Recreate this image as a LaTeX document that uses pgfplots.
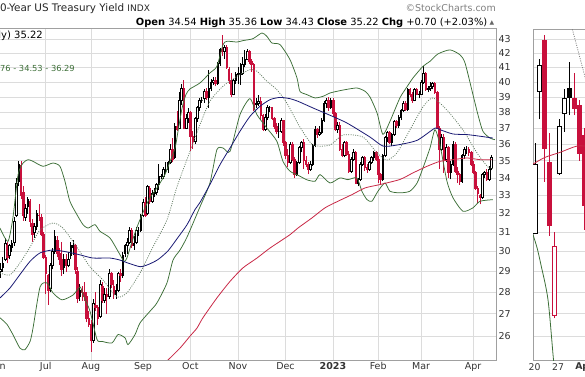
\documentclass[border=0pt]{standalone}
\usepackage{pgfplots}
\pgfplotsset{compat=1.18}
\usepackage{pgfplotstable}
\usepackage{fontspec}
\setmainfont{DejaVu Sans}
\definecolor{cred}{RGB}{200,16,60}
\definecolor{bbgreen}{RGB}{60,110,55}
\definecolor{ma20}{RGB}{100,125,100}
\definecolor{ma50}{RGB}{25,25,115}
\definecolor{ma200}{RGB}{200,40,70}
\definecolor{gridc}{RGB}{220,220,220}
\definecolor{framec}{RGB}{160,160,160}

% daily candles: x = trading day (Jul 1 2022 = 0)
\pgfplotstableread{
x o h l c
-21 28.5 29.3 28.4 29.1
-20 29.0 29.4 28.7 29.1
-19 29.2 29.7 29.0 29.4
-18 29.6 30.7 29.5 30.4
-17 30.3 30.5 29.4 29.7
-16 29.8 30.4 29.6 30.3
-15 30.2 30.6 30.0 30.4
-14 30.5 31.8 30.3 31.6
-13 31.9 34.0 31.8 33.7
-12 33.8 35.0 33.5 34.8
-11 34.7 35.0 32.8 33.0
-10 33.2 33.5 31.6 31.9
-9 31.8 32.5 31.6 32.3
-8 32.4 32.9 32.0 32.8
-7 32.7 32.8 31.3 31.6
-6 31.5 31.7 30.5 30.9
-5 31.0 31.5 30.7 31.3
-4 31.3 32.2 31.1 32.0
-3 31.9 32.5 31.6 31.9
-2 31.8 32.0 30.8 30.9
-1 30.9 31.0 29.6 29.7
0 29.7 29.8 27.9 28.9
1 28.8 28.9 27.4 28.1
2 28.2 29.4 28.0 29.3
3 29.3 30.2 29.1 30.0
4 30.0 31.1 29.9 30.8
5 30.6 30.8 29.7 29.9
6 29.9 30.2 29.3 29.6
7 29.6 30.5 28.8 29.1
8 29.2 29.9 28.9 29.6
9 29.6 29.9 29.0 29.3
10 29.3 30.0 29.2 29.6
11 29.8 30.5 29.6 30.3
12 30.2 30.6 29.8 30.3
13 30.3 30.4 28.9 29.1
14 29.0 29.2 27.5 27.7
15 27.8 28.4 27.6 28.1
16 28.1 28.3 27.6 28.0
17 28.0 28.5 27.6 27.8
18 27.8 28.0 26.6 26.8
19 26.8 27.1 26.4 26.5
20 26.5 26.7 25.3 25.8
21 25.8 27.7 25.7 27.5
22 27.4 28.0 27.1 27.3
23 27.3 27.4 26.5 26.8
24 26.9 28.6 26.8 28.4
25 28.3 28.5 27.5 27.6
26 27.6 28.2 27.5 27.9
27 27.9 28.2 27.0 27.8
28 27.8 29.1 27.7 28.9
29 28.9 29.0 28.2 28.4
30 28.3 28.6 27.7 27.9
31 27.9 28.4 27.7 28.1
32 28.1 29.0 28.0 28.9
33 28.9 29.1 28.5 28.8
34 28.8 30.0 28.7 29.8
35 29.9 30.4 29.7 30.3
36 30.3 30.7 29.9 30.5
37 30.5 31.3 30.4 31.1
38 31.1 31.2 30.2 30.3
39 30.3 30.8 30.1 30.4
40 30.5 31.3 30.4 31.1
41 31.1 31.3 30.8 31.1
42 31.1 32.0 31.0 31.9
43 31.9 32.8 31.8 32.6
44 32.6 32.9 31.8 31.9
45 32.0 33.6 31.9 33.5
46 33.4 33.5 32.5 32.7
47 32.7 33.3 32.6 33.1
48 33.1 33.4 32.9 33.2
49 33.2 33.7 33.0 33.6
50 33.6 34.8 33.3 34.1
51 34.1 34.2 33.9 34.1
52 34.1 34.6 33.9 34.5
53 34.5 34.9 34.3 34.5
54 34.5 35.0 34.3 34.9
55 34.9 36.0 34.8 35.7
56 35.7 36.4 34.9 35.1
57 35.2 37.3 35.1 37.1
58 37.1 38.1 36.8 36.9
59 37.0 39.3 36.9 38.8
60 38.8 39.9 38.5 39.6
61 39.6 40.1 36.9 37.0
62 37.0 37.9 36.9 37.6
63 37.6 38.3 37.3 38.0
64 38.0 38.1 35.6 36.5
65 36.5 36.8 35.7 36.2
66 36.2 37.7 36.0 37.6
67 37.6 38.4 37.4 38.3
68 38.3 38.9 38.1 38.8
69 38.8 39.0 38.6 38.8
70 38.9 39.5 38.6 39.4
71 39.4 39.6 38.8 39.0
72 39.0 40.8 38.3 39.6
73 39.6 40.2 39.4 40.0
74 40.0 40.3 39.8 40.1
75 40.1 40.3 39.7 39.9
76 39.9 41.4 39.8 41.3
77 41.3 42.4 41.1 42.3
78 42.3 43.3 41.8 42.1
79 42.1 42.6 41.6 42.4
80 42.4 42.6 40.9 41.0
81 40.9 41.0 39.9 40.1
82 40.1 40.6 39.0 39.2
83 39.2 40.2 39.1 40.1
84 40.1 40.7 39.9 40.5
85 40.6 41.0 39.9 40.5
86 40.5 41.3 39.8 40.6
87 40.6 41.7 40.5 41.2
88 41.2 42.2 41.0 41.6
89 41.6 42.3 41.5 42.1
90 42.1 42.2 41.2 41.4
91 41.4 41.6 40.7 41.2
92 41.2 41.3 38.1 38.2
93 38.5 38.9 38.3 38.6
94 38.6 39.1 38.4 38.7
95 38.7 39.0 37.5 37.8
96 37.8 37.9 36.8 36.9
97 36.9 37.9 36.8 37.7
98 37.7 38.5 37.5 38.3
99 38.3 38.4 38.0 38.3
100 38.3 38.3 37.5 37.6
101 37.6 37.7 36.9 37.1
102 37.1 37.3 36.6 36.8
103 36.8 37.3 36.4 36.8
104 36.8 37.6 36.7 37.5
105 37.5 37.5 35.9 36.1
106 36.1 36.2 35.1 35.3
107 35.3 35.7 34.6 34.9
108 34.9 36.1 34.8 36.0
109 36.0 36.1 35.0 35.1
110 35.1 35.2 34.0 34.2
111 34.2 35.0 34.1 34.9
112 34.9 35.9 34.8 35.8
113 35.8 36.2 35.5 36.1
114 36.1 36.3 34.5 35.0
115 35.0 35.3 34.6 34.8
116 34.8 34.9 34.2 34.5
117 34.5 35.0 34.4 34.8
118 34.8 36.0 34.7 35.9
119 35.9 37.1 35.8 36.9
120 36.9 37.0 36.4 36.6
121 36.6 37.1 36.5 36.7
122 36.7 37.6 36.6 37.5
123 37.5 38.7 37.4 38.6
124 38.6 38.9 38.3 38.8
125 38.8 39.0 38.1 38.3
126 38.3 38.9 38.2 38.8
127 38.8 38.9 37.7 37.9
128 37.9 38.0 36.8 36.9
129 36.9 37.4 36.7 37.2
130 37.2 37.4 35.6 35.7
131 35.7 36.0 35.2 35.3
132 35.3 36.2 35.2 36.1
133 36.1 36.2 35.3 35.4
134 35.4 35.6 34.3 34.4
135 34.4 35.2 34.3 35.1
136 35.1 35.7 35.0 35.5
137 35.5 35.6 33.7 33.7
138 33.7 34.0 33.5 33.9
139 33.9 34.9 33.8 34.8
140 34.8 35.3 34.7 35.2
141 35.2 35.3 34.4 34.6
142 34.6 34.8 34.3 34.5
143 34.5 35.0 34.4 34.9
144 34.9 35.3 34.8 35.2
145 35.2 35.6 35.0 35.5
146 35.5 35.6 35.0 35.1
147 35.1 35.3 33.7 34.2
148 34.2 34.3 33.6 33.9
149 33.9 35.4 33.8 35.3
150 35.3 36.5 35.2 36.4
151 36.4 36.8 36.1 36.7
152 36.7 36.8 36.0 36.1
153 36.1 36.7 35.9 36.6
154 36.6 37.5 36.5 37.4
155 37.4 37.5 37.0 37.2
156 37.2 37.8 37.0 37.7
157 37.7 38.2 37.5 38.1
158 38.1 38.7 38.0 38.6
159 38.6 38.7 38.1 38.2
160 38.2 39.6 38.1 39.5
161 39.5 39.6 39.0 39.2
162 39.2 39.3 38.6 38.8
163 38.8 39.6 38.7 39.5
164 39.5 39.6 39.1 39.2
165 39.2 39.4 38.9 39.2
166 39.2 40.1 39.1 40.0
167 40.0 41.1 39.9 40.6
168 40.6 40.7 39.4 39.5
169 39.5 39.7 39.3 39.6
170 39.6 40.0 39.4 39.7
171 39.7 40.0 39.5 39.9
172 39.9 40.0 39.2 39.3
173 39.3 39.4 36.9 37.0
174 37.0 37.1 34.5 35.7
175 35.7 36.6 35.6 36.4
176 36.4 36.6 34.3 35.1
177 35.1 36.0 34.9 35.8
178 35.8 35.9 34.0 34.3
179 34.3 35.0 33.9 34.8
180 34.8 36.2 34.7 36.0
181 36.0 36.1 34.3 34.4
182 34.4 34.6 33.7 34.2
183 34.2 34.3 33.6 33.8
184 33.8 35.4 33.7 35.3
185 35.3 35.8 35.1 35.7
186 35.7 35.9 35.4 35.7
187 35.7 35.8 35.3 35.5
188 35.5 35.6 34.7 34.8
189 34.8 35.0 34.2 34.3
190 34.3 34.4 33.3 33.4
191 33.4 33.5 32.6 33.1
192 33.0 33.1 32.5 32.9
193 32.9 34.3 32.8 34.2
194 34.2 34.4 34.0 34.3
195 34.3 34.5 33.8 33.9
196 33.9 34.7 33.8 34.5
197 34.54 35.36 34.43 35.22
}\ohlc

% right-hand panel candles (x in panel units)
\pgfplotstableread{
x o h l c
534.8 30.95 36.05 30.95 34.80
539.5 39.39 41.57 37.54 41.12
544.5 42.95 43.31 33.78 35.75
549.5 34.90 36.67 30.81 31.35
554.5 26.94 31.00 26.79 30.25
559.4 34.26 37.54 34.19 37.08
564.4 37.93 39.53 36.77 38.91
569.2 39.61 41.40 37.82 39.01
574.3 38.91 40.59 37.82 38.25
579.3 38.47 38.79 35.00 35.44
584.2 36.56 37.00 31.12 32.47
}\ohlcb

\newcommand\drawcandles[2]{%
  \pgfplotstablegetrowsof{#1}%
  \pgfmathtruncatemacro\Nrows{\pgfplotsretval-1}%
  \pgfplotsforeachungrouped \i in {0,...,\Nrows}{%
    \pgfplotstablegetelem{\i}{x}\of#1\let\cX\pgfplotsretval
    \pgfplotstablegetelem{\i}{o}\of#1\let\cO\pgfplotsretval
    \pgfplotstablegetelem{\i}{h}\of#1\let\cH\pgfplotsretval
    \pgfplotstablegetelem{\i}{l}\of#1\let\cL\pgfplotsretval
    \pgfplotstablegetelem{\i}{c}\of#1\let\cC\pgfplotsretval
    \pgfmathtruncatemacro\jprev{max(\i-1,0)}%
    \pgfplotstablegetelem{\jprev}{c}\of#1\let\cP\pgfplotsretval
    \pgfmathtruncatemacro\isred{\cC<\cP}%
    \pgfmathtruncatemacro\isup{\cC>\cO}%
    \ifnum\isred=1 \def\ccol{cred}\else\def\ccol{black}\fi
    \ifnum\isup=1 \def\cfill{white}\else\let\cfill\ccol\fi
    \pgfmathsetmacro\xa{\cX-#2}\pgfmathsetmacro\xb{\cX+#2}%
    \edef\tmp{%
      \noexpand\addplot[draw=\ccol, line width=0.6pt, forget plot] coordinates {(\cX,\cL) (\cX,\cH)};
      \noexpand\addplot[draw=\ccol, fill=\cfill, line width=0.45pt, forget plot] coordinates {(\xa,\cO) (\xb,\cO) (\xb,\cC) (\xa,\cC)} -- cycle;
    }\tmp
  }%
}

\begin{document}
\begin{tikzpicture}[x=1pt,y=1pt]
\useasboundingbox (0,0) rectangle (585,376);
\clip (0,0) rectangle (585,376);

\begin{axis}[
  at={(-10.85pt,16pt)}, anchor=south west, scale only axis,
  width=506.85pt, height=332pt,
  xmin=-25, xmax=199.09,
  ymode=log, ymin=24.96, ymax=43.83,
  axis line style={framec, line width=0.6pt},
  xtick={-21,0,20,43,64,85,106,127,147,166,189},
  xticklabels={Jun,Jul,Aug,Sep,Oct,Nov,Dec,\textbf{2023},Feb,Mar,Apr},
  ytick={26,27,28,29,30,31,32,33,34,35,36,37,38,39,40,41,42,43},
  yticklabels={26,27,28,29,30,31,32,33,34,35,36,37,38,39,40,41,42,43},
  yticklabel pos=right,
  major tick length=0pt,
  grid=major, grid style={gridc, line width=0.5pt},
  tick label style={font=\fontsize{9.5}{10}\selectfont, text=black!80},
  yticklabel style={xshift=-1pt},
  xticklabel style={yshift=1pt},
  no markers,
]
\drawcandles{\ohlc}{0.36}
% Bollinger upper
\addplot[bbgreen, line width=0.75pt, smooth, tension=0.4] coordinates {
(-20.2,31.22) (-16.7,30.52) (-14.5,31.76) (-12.2,34.18) (-10.0,34.86) (-7.8,35.06) (-5.6,34.96)
(-1.2,34.67) (3.2,34.86) (6.3,34.67) (8.5,33.80) (10.7,32.67) (13.8,31.94) (16.5,31.40) (18.7,31.22)
(21.8,31.40) (24.0,31.05) (28.4,30.70) (32.0,30.01) (34.6,29.51) (35.9,29.67) (38.2,30.52) (40.8,31.40)
(43.9,32.31) (46.1,32.86) (49.2,33.42) (52.7,34.18) (55.0,34.96) (57.2,35.76) (58.5,36.79) (60.3,38.27)
(62.0,39.15) (63.8,39.53) (68.2,39.93) (72.6,40.61) (75.7,41.07) (78.4,42.61) (80.2,42.85) (84.6,42.80)
(87.2,42.90) (91.6,43.04) (95.6,43.46) (97.8,43.21) (100.0,42.73) (103.6,42.61) (108.0,41.54) (111.1,40.27)
(112.4,39.37) (115.5,39.15) (119.1,38.93) (122.6,39.04) (125.7,39.26) (128.8,39.37) (132.3,39.48)
(137.6,39.59) (141.2,39.37) (143.4,38.99) (146.5,37.95) (149.1,36.6) (152.2,37.41) (156.6,38.93)
(159.7,39.66) (162.4,40.27) (166.8,41.07) (169.9,41.42) (173.4,41.94) (178.7,42.23) (183.1,41.89)
(185.4,41.30) (188.9,39.15) (191.1,37.84) (193.3,36.79) (196.4,36.37) (198.6,36.27)};
% Bollinger lower
\addplot[bbgreen, line width=0.75pt, smooth, tension=0.4] coordinates {
(-20.2,26.81) (-17.1,26.51) (-14.5,26.06) (-11.4,25.47) (-9.2,25.40) (-6.9,25.76) (-5.6,26.35)
(-2.5,28.25) (0.6,28.44) (3.2,27.97) (7.2,27.64) (12.1,27.87) (15.2,28.25) (16.5,27.89) (19.6,27.11)
(22.7,25.84) (24.9,25.76) (29.3,25.69) (32.0,26.06) (35.1,25.91) (36.4,25.62) (39.5,26.06) (41.7,26.58)
(46.1,27.11) (49.2,27.50) (53.6,28.44) (56.3,29.57) (59.4,30.08) (62.5,30.75) (68.2,32.36) (72.6,33.70)
(75.7,35.66) (78.4,35.76) (81.5,35.56) (85.9,37.84) (90.3,38.88) (93.4,37.84) (97.8,36.99) (102.2,36.17)
(104.9,34.96) (108.0,34.38) (112.4,34.09) (115.5,33.88) (119.1,33.80) (121.3,34.18) (125.7,33.70)
(130.1,33.99) (133.6,33.89) (137.6,33.99) (139.8,33.23) (142.0,32.77) (144.2,32.67) (146.9,33.23)
(150.0,33.70) (152.2,33.23) (156.6,33.14) (161.0,33.23) (164.2,33.70) (166.8,34.57) (169.9,35.76)
(172.1,36.89) (174.3,35.96) (177.4,33.80) (180.1,32.86) (184.5,32.12) (188.9,32.31) (192.0,32.67)
(197.7,32.76)};
% 20-day SMA (dotted)
\addplot[ma20, line width=0.75pt, dash pattern=on 1pt off 1.3pt, smooth, tension=0.4] coordinates {
(-20.2,28.93) (-15.8,28.83) (-11.4,29.42) (-6.9,30.23) (-2.5,31.12) (3.2,31.49) (7.6,31.22) (13.8,30.23)
(19.6,29.23) (25.3,28.59) (31.5,27.78) (35.9,27.97) (41.7,28.93) (47.4,30.23) (53.6,31.65) (58.0,33.47)
(63.8,35.56) (68.2,37.20) (72.6,38.71) (78.4,39.71) (84.6,40.38) (90.3,40.84) (93.4,40.73) (97.8,40.04)
(102.2,39.48) (106.6,38.60) (112.4,37.05) (118.2,35.94) (125.7,35.94) (131.5,36.56) (140.3,36.43)
(146.5,35.46) (150.9,35.04) (155.3,35.46) (161.0,36.87) (166.8,38.34) (171.2,38.93) (177.4,38.14)
(184.5,36.87) (190.7,35.46) (195.5,34.63) (197.7,34.53)};
% 50-day SMA
\addplot[ma50, line width=0.8pt, smooth, tension=0.4] coordinates {
(-20.2,27.73) (-15.8,28.20) (-11.4,28.85) (-6.9,29.51) (-2.5,29.93) (3.2,30.08) (9.4,29.98) (15.2,29.83)
(20.9,29.67) (28.4,29.67) (32.8,29.57) (36.4,29.42) (41.7,29.24) (45.2,29.34) (49.6,29.59) (54.1,30.04)
(58.5,30.73) (62.5,31.40) (66.0,32.21) (68.2,32.60) (72.6,33.61) (77.1,34.77) (81.5,35.76) (85.9,36.79)
(90.3,37.73) (94.7,38.38) (99.2,38.82) (103.6,38.97) (108.0,38.88) (111.5,38.71) (118.2,38.27)
(125.7,37.80) (133.2,37.31) (143.4,36.43) (149.1,35.88) (155.3,35.94) (164.2,36.23) (172.1,36.99)
(174.3,36.89) (180.1,36.62) (186.3,36.58) (192.0,36.48) (197.7,36.37)};
% 200-day SMA
\addplot[ma200, line width=0.8pt, smooth, tension=0.4] coordinates {
(50.5,24.60) (54.1,24.96) (59.4,25.47) (63.8,25.99) (66.9,26.35) (69.5,26.81) (75.7,27.73) (81.5,28.52)
(87.2,29.18) (93.4,29.67) (99.2,30.18) (108.0,30.87) (111.5,31.22) (117.7,31.76) (123.5,32.31)
(129.2,32.67) (135.4,33.04) (141.2,33.42) (147.8,33.61) (156.6,33.90) (162.4,34.28) (168.6,34.67)
(174.3,34.96) (180.1,35.06) (186.3,35.16) (192.0,35.06) (197.3,35.06)};
\end{axis}

% right-hand panel
\begin{axis}[
  at={(533pt,15.3pt)}, anchor=south west, scale only axis,
  width=67pt, height=331.4pt,
  xmin=533, xmax=600,
  ymode=log, ymin=24.93, ymax=43.74,
  axis line style={framec, line width=0.6pt},
  xtick={534.5,558,584.5},
  xticklabels={20,27,\textbf{Apr}},
  ytick={26,27,28,29,30,31,32,33,34,35,36,37,38,39,40,41,42,43},
  yticklabels={},
  major tick length=0pt,
  ymajorgrids, grid style={gridc, line width=0.5pt},
  tick label style={font=\fontsize{9.3}{10}\selectfont, text=black!80},
  xticklabel style={yshift=1pt},
  no markers,
]
\drawcandles{\ohlcb}{2.1}
\addplot[ma200, line width=0.8pt, smooth] coordinates {(533,34.8) (545,35.2) (560,35.5) (577,35.88) (590,35.85)};
\addplot[bbgreen, line width=0.8pt, smooth] coordinates {(533,30.87) (537,30.2) (541,29.32) (548,27.64) (553.5,24.97) (556,24.2)};
\addplot[gray, line width=0.8pt, dash pattern=on 1pt off 1.3pt] coordinates {(570,44.4) (585,40.34) (590,39.0)};
\end{axis}

% header texts
\node[anchor=base west, inner sep=0pt, text=black!85] at (-6.8,364.5) {\fontsize{10.4}{12}\selectfont 10-Year US Treasury Yield {\fontsize{9}{10}\selectfont INDX}};
\node[anchor=base east, inner sep=0pt, text=black!50] at (496,364.5) {\fontsize{9.5}{11}\selectfont ©StockCharts.com};
\node[anchor=base east, inner sep=0pt] at (487.5,350.5) {\fontsize{9.9}{12}\selectfont \textbf{Open} 34.54 \textbf{High} 35.36 \textbf{Low} 34.43 \textbf{Close} 35.22 \textbf{Chg} +0.70 (+2.03\%)};
\node[anchor=base west, inner sep=0pt, text=black!60] at (489.5,351.5) {\fontsize{6}{7}\selectfont ▲};
\node[anchor=base east, inner sep=0pt] at (43,338) {\fontsize{10}{12}\selectfont \$TNX (Daily) 35.22};
\node[anchor=base east, inner sep=0pt, text=bbgreen] at (75,304.5) {\fontsize{8.3}{10}\selectfont BB(20,2.0) 32.76 - 34.53 - 36.29};
\end{tikzpicture}
\end{document}
